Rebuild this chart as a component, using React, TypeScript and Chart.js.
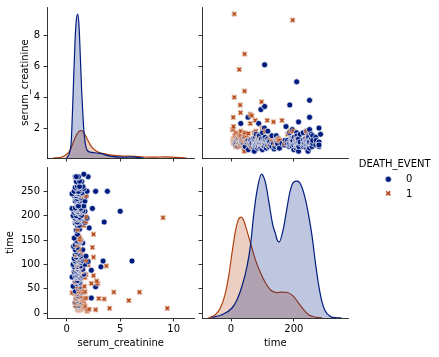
import React, { useEffect, useRef } from 'react';
import { Chart, registerables } from 'chart.js';

Chart.register(...registerables);

const W = 439;
const H = 357;
const FONT = "'DejaVu Sans', sans-serif";
const BLUE = '#001c7f';
const ORANGE = '#b1400d';
const BLUE_FILL = 'rgba(0,28,127,0.25)';
const ORANGE_FILL = 'rgba(177,64,13,0.25)';

// ---------- data: [serum_creatinine, time] ----------
const survivedPoints: [number, number][] = [
  [1.0, 12], [0.9, 15], [1.1, 16], [1.2, 20], [0.8, 22], [1.3, 24], [1.0, 26], [0.9, 30], [2.3, 31], [1.2, 33],
  [1.1, 35], [1.0, 40], [1.4, 42], [0.8, 45], [1.1, 50], [2.7, 54], [0.6, 55], [1.2, 54], [1.0, 60], [0.9, 61],
  [1.2, 63], [0.8, 65], [1.1, 66], [1.0, 67], [1.3, 72], [0.7, 73], [0.5, 74], [0.9, 74], [1.0, 74], [1.2, 74],
  [1.1, 76], [0.8, 77], [1.4, 78], [1.0, 79], [0.9, 79], [1.6, 80], [1.1, 82], [0.9, 82], [1.0, 83], [0.7, 85],
  [1.2, 85], [0.9, 86], [1.3, 87], [2.3, 88], [1.0, 88], [0.8, 88], [1.2, 88], [1.1, 90], [1.5, 90], [1.0, 91],
  [0.9, 94], [1.2, 94], [3.2, 95], [0.8, 95], [0.7, 95], [1.1, 95], [1.0, 96], [1.3, 97], [0.9, 100], [1.7, 100],
  [0.6, 100], [1.0, 100], [1.0, 104], [1.2, 104], [1.3, 104], [0.8, 105], [2.0, 106], [1.1, 106], [3.4, 107], [6.1, 107],
  [0.9, 107], [0.8, 107], [1.4, 108], [1.0, 109], [1.2, 110], [0.7, 112], [1.1, 113], [1.0, 115], [0.9, 115], [1.3, 117],
  [1.8, 117], [1.0, 120], [0.8, 120], [1.1, 120], [1.2, 121], [1.1, 123], [0.9, 126], [1.0, 130], [1.5, 130], [0.8, 130],
  [0.65, 137], [1.0, 135], [0.8, 140], [1.5, 144], [1.2, 145], [1.1, 146], [0.9, 147], [1.0, 148], [1.3, 150], [0.7, 154],
  [1.0, 162], [0.9, 170], [2.1, 175], [1.2, 172], [1.0, 180], [1.2, 180], [0.8, 185], [1.1, 186], [1.7, 186], [3.5, 187],
  [0.9, 187], [1.0, 187], [1.0, 192], [1.3, 193], [1.2, 194], [1.9, 195], [0.8, 195], [1.0, 196], [1.1, 197], [1.2, 197],
  [0.6, 200], [0.9, 200], [1.4, 201], [1.0, 205], [1.2, 205], [0.7, 207], [1.1, 208], [0.9, 209], [5.0, 209], [1.0, 209],
  [1.7, 209], [1.5, 210], [0.8, 211], [1.3, 212], [0.9, 212], [1.0, 213], [1.2, 214], [0.5, 215], [2.4, 215], [1.1, 215],
  [1.3, 215], [0.9, 216], [0.8, 216], [1.0, 220], [1.6, 220], [1.1, 220], [0.8, 230], [1.2, 230], [1.7, 230], [1.0, 231],
  [0.9, 233], [1.1, 235], [1.0, 235], [1.3, 237], [1.8, 240], [1.0, 240], [1.2, 240], [0.7, 241], [0.9, 241], [1.2, 244],
  [0.9, 245], [0.5, 245], [1.0, 245], [1.1, 246], [1.5, 246], [1.4, 247], [0.8, 250], [1.0, 250], [1.2, 250], [0.7, 250],
  [1.1, 250], [1.9, 250], [2.7, 250], [3.8, 250], [0.9, 256], [1.3, 256], [1.6, 256], [1.1, 258], [0.8, 258], [1.0, 260],
  [1.5, 260], [1.2, 260], [0.9, 270], [1.4, 270], [1.2, 271], [1.0, 278], [0.8, 280], [1.1, 280], [0.9, 280], [2.0, 280],
  [1.6, 285],
];

const diedPoints: [number, number][] = [
  [1.9, 4], [1.1, 6], [2.7, 7], [1.3, 7], [1.9, 7], [2.1, 8], [1.0, 8], [4.0, 10], [9.4, 10], [1.2, 10],
  [1.1, 10], [1.5, 11], [1.0, 12], [1.3, 13], [0.9, 14], [1.2, 14], [1.7, 15], [1.2, 15], [0.8, 16], [1.0, 20],
  [1.4, 20], [0.8, 22], [1.1, 23], [1.6, 24], [5.8, 26], [1.3, 26], [1.4, 27], [1.0, 28], [3.5, 29], [1.2, 29],
  [0.9, 30], [3.0, 30], [1.5, 30], [1.8, 31], [1.1, 33], [1.0, 33], [1.3, 35], [1.0, 38], [0.7, 40], [1.2, 41],
  [0.5, 42], [6.8, 43], [4.4, 43], [1.6, 43], [1.45, 43], [0.9, 44], [1.7, 44], [1.1, 45], [1.4, 50], [1.2, 50],
  [1.65, 55], [1.0, 55], [1.2, 59], [2.9, 61], [2.3, 61], [1.3, 62], [0.9, 64], [0.8, 65], [2.8, 66], [1.1, 72],
  [1.7, 73], [2.5, 77], [1.0, 78], [1.8, 79], [1.2, 82], [1.5, 86], [1.4, 88], [0.9, 90], [1.3, 94], [1.0, 95],
  [3.7, 97], [2.0, 99], [1.0, 100], [1.2, 107], [1.8, 109], [1.1, 112], [2.5, 115], [0.9, 120], [1.4, 126], [1.15, 131],
  [2.4, 135], [1.0, 140], [1.3, 150], [1.2, 151], [1.2, 156], [2.5, 162], [1.0, 172], [1.6, 180], [1.8, 188], [1.2, 193],
  [1.1, 196], [9.0, 196], [1.8, 198], [1.3, 207], [0.9, 214], [1.4, 241], [1.8, 241],
];

// ---------- KDE curves (relative density) ----------
const creatinineGridSurvived = [0.0, 0.4, 0.53, 0.65, 0.78, 0.9, 1.03, 1.15, 1.28, 1.4, 1.53, 1.65, 1.78, 1.97, 2.36, 2.83, 3.29, 3.76, 4.38, 5.0, 5.5, 6.1, 6.6, 7.2];
const creatinineDensitySurvived = [0, 13, 43, 80, 117, 138, 144, 133, 100, 67, 40, 22, 12, 7, 5.6, 5, 4.3, 2.6, 1.3, 0.8, 0.8, 1.2, 0.6, 0];
const creatinineGridDied = [-1.3, -0.45, 0.03, 0.34, 0.65, 0.96, 1.28, 1.43, 1.74, 2.06, 2.37, 2.83, 3.46, 4.4, 5.3, 6.24, 7.2, 8.2, 9.2, 10.2, 11.2];
const creatinineDensityDied = [0, 1, 4, 8.3, 16.6, 24, 27.5, 27.3, 22.6, 16, 10.6, 6.6, 4.3, 2.6, 2, 1.6, 1.0, 0.8, 1.2, 0.6, 0];

const timeGridSurvived = [-62, -29, 3, 19, 35, 51, 62, 72, 83, 97, 110, 120, 133, 141, 147, 153, 167, 178, 188, 199, 211, 223, 236, 247, 258, 268, 279, 289, 300, 316, 337, 352];
const timeDensitySurvived = [0.5, 3.3, 10, 18.3, 32, 52, 73, 103, 128, 144, 135, 117, 93, 85, 78, 76, 90, 110, 127, 136, 137, 133, 120, 103, 82, 57, 33, 17, 7, 1.6, 0.2, 0];
const timeGridDied = [-72, -50, -34, -18, -7, 3, 14, 24, 32, 40, 51, 62, 78, 94, 110, 126, 145, 162, 180, 199, 215, 231, 247, 268, 290];
const timeDensityDied = [0, 3.3, 10, 25, 43, 65, 87, 99, 101, 98, 87, 75, 58, 45, 35, 28, 25.5, 26, 25.5, 21.6, 15, 8.3, 3.3, 1, 0];

// ---------- axes ----------
const creatinineRange = [-1.84, 11.94];
const creatinineValueRange = [0.06, 9.85];
const timeRange = [-92.5, 374];
const timeValueRange = [-10, 300];
const creatinineXTicks = [0, 5, 10];
const creatinineYTicks = [2, 4, 6, 8];
const timeXTicks = [0, 200];
const timeYTicks = [0, 50, 100, 150, 200, 250];
const legendTitle = 'DEATH_EVENT';
const legendLabels = ['0', '1'];

type Area = { l: number; t: number; r: number; b: number };
const AREA_TL: Area = { l: 47, t: 7, r: 194.5, b: 158 };
const AREA_TR: Area = { l: 202, t: 7, r: 348.5, b: 158 };
const AREA_BL: Area = { l: 47, t: 167, r: 194.5, b: 318 };
const AREA_BR: Area = { l: 202, t: 167, r: 348.5, b: 318 };

const font = { family: FONT, size: 10, lineHeight: 1.2 };

function zeroPad(s: any) {
  s.paddingLeft = 0; s.paddingRight = 0; s.paddingTop = 0; s.paddingBottom = 0;
}

function xAxis(area: Area, range: number[], ticks: number[], labels: boolean, title?: string) {
  return {
    type: 'linear', position: 'bottom', min: range[0], max: range[1], bounds: 'data',
    afterBuildTicks: (s: any) => { s.ticks = ticks.map((v) => ({ value: v })); },
    afterFit: (s: any) => { s.height = H - area.b; zeroPad(s); },
    grid: { display: true, drawOnChartArea: false, drawTicks: true, tickLength: 3.5, color: '#000', lineWidth: 0.8 },
    border: { display: true, color: '#000', width: 0.8 },
    ticks: { display: labels, padding: 2, color: '#000', font, maxRotation: 0, autoSkip: false },
    title: title
      ? { display: true, text: title, color: '#000', font, padding: { top: 0, bottom: 7.5 } }
      : { display: false },
  };
}

function yAxis(area: Area, range: number[], ticks: number[], labels: boolean, title?: string, titlePad = 0) {
  return {
    type: 'linear', position: 'left', min: range[0], max: range[1], bounds: 'data',
    afterBuildTicks: (s: any) => { s.ticks = ticks.map((v) => ({ value: v })); },
    afterFit: (s: any) => { s.width = area.l; zeroPad(s); },
    grid: { display: true, drawOnChartArea: false, drawTicks: true, tickLength: 3.5, color: '#000', lineWidth: 0.8 },
    border: { display: true, color: '#000', width: 0.8 },
    ticks: { display: labels, padding: 3.5, color: '#000', font, autoSkip: false },
    title: title
      ? { display: true, text: title, color: '#000', font, padding: { top: titlePad, bottom: 0 } }
      : { display: false },
  };
}

function baseOptions(area: Area, scales: any) {
  return {
    responsive: false,
    animation: false,
    events: [],
    devicePixelRatio: 1,
    layout: { padding: { left: 0, top: area.t, right: W - area.r, bottom: 0 } },
    plugins: { legend: { display: false }, tooltip: { enabled: false } },
    scales,
  };
}

function makeXMarker(color: string) {
  const c = document.createElement('canvas');
  const S = 9;
  c.width = S; c.height = S;
  const ctx = c.getContext('2d')!;
  const pts = [[-1, -3], [1, -3], [1, -1], [3, -1], [3, 1], [1, 1], [1, 3], [-1, 3], [-1, 1], [-3, 1], [-3, -1], [-1, -1]];
  ctx.translate(S / 2, S / 2);
  ctx.rotate(Math.PI / 4);
  ctx.beginPath();
  pts.forEach(([x, y], i) => (i ? ctx.lineTo(x, y) : ctx.moveTo(x, y)));
  ctx.closePath();
  ctx.fillStyle = color;
  ctx.fill();
  ctx.strokeStyle = '#fff';
  ctx.lineWidth = 0.6;
  ctx.stroke();
  return c;
}

function kdeDataset(xs: number[], ys: number[], color: string, fill: string) {
  return {
    type: 'line',
    data: xs.map((x, i) => ({ x, y: ys[i] })),
    borderColor: color,
    backgroundColor: fill,
    borderWidth: 1.2,
    fill: 'origin',
    pointRadius: 0,
    cubicInterpolationMode: 'monotone',
    yAxisID: 'y2',
  };
}

// one dataset with all rows ordered by time, so later rows are painted over earlier ones
function scatterDataset(swap: boolean) {
  const xm = makeXMarker(ORANGE);
  const rows = [
    ...survivedPoints.map((p) => ({ p, died: false })),
    ...diedPoints.map((p) => ({ p, died: true })),
  ].sort((a, b) => a.p[1] - b.p[1]);
  return {
    data: rows.map(({ p }) => (swap ? { x: p[1], y: p[0] } : { x: p[0], y: p[1] })),
    pointStyle: rows.map((r) => (r.died ? xm : 'circle')),
    backgroundColor: rows.map((r) => (r.died ? ORANGE : BLUE)),
    borderColor: '#fff',
    borderWidth: rows.map((r) => (r.died ? 0.6 : 0.7)),
    pointRadius: 3,
  };
}

const densityMax = Math.max(...creatinineDensitySurvived, ...creatinineDensityDied);
const timeDensityMax = Math.max(...timeDensitySurvived, ...timeDensityDied);

const configs: (() => any)[] = [
  // top-left: creatinine KDE
  () => ({
    type: 'line',
    data: {
      datasets: [
        kdeDataset(creatinineGridSurvived, creatinineDensitySurvived, BLUE, BLUE_FILL),
        kdeDataset(creatinineGridDied, creatinineDensityDied, ORANGE, ORANGE_FILL),
      ],
    },
    options: baseOptions(AREA_TL, {
      x: xAxis(AREA_TL, creatinineRange, creatinineXTicks, false),
      y: yAxis(AREA_TL, creatinineValueRange, creatinineYTicks, true, 'serum_creatinine', 19),
      y2: { type: 'linear', display: false, min: 0, max: densityMax * 1.05 },
    }),
  }),
  // top-right: time vs creatinine
  () => ({
    type: 'scatter',
    data: { datasets: [scatterDataset(true)] },
    options: baseOptions(AREA_TR, {
      x: xAxis(AREA_TR, timeRange, timeXTicks, false),
      y: yAxis(AREA_TR, creatinineValueRange, creatinineYTicks, false),
    }),
  }),
  // bottom-left: creatinine vs time
  () => ({
    type: 'scatter',
    data: { datasets: [scatterDataset(false)] },
    options: baseOptions(AREA_BL, {
      x: xAxis(AREA_BL, creatinineRange, creatinineXTicks, true, 'serum_creatinine'),
      y: yAxis(AREA_BL, timeValueRange, timeYTicks, true, 'time', 4.3),
    }),
  }),
  // bottom-right: time KDE
  () => ({
    type: 'line',
    data: {
      datasets: [
        kdeDataset(timeGridSurvived, timeDensitySurvived, BLUE, BLUE_FILL),
        kdeDataset(timeGridDied, timeDensityDied, ORANGE, ORANGE_FILL),
      ],
    },
    options: baseOptions(AREA_BR, {
      x: xAxis(AREA_BR, timeRange, timeXTicks, true, 'time'),
      y: yAxis(AREA_BR, timeValueRange, timeYTicks, false),
      y2: { type: 'linear', display: false, min: 0, max: timeDensityMax * 1.05 },
    }),
  }),
];

function ChartCanvas({ make }: { make: () => any }) {
  const ref = useRef<HTMLCanvasElement>(null);
  useEffect(() => {
    const chart = new Chart(ref.current as HTMLCanvasElement, make());
    return () => chart.destroy();
  }, [make]);
  return (
    <canvas
      ref={ref}
      width={W}
      height={H}
      style={{ position: 'absolute', left: 0, top: 0, width: W, height: H }}
    />
  );
}

function Legend() {
  return (
    <svg
      width={W}
      height={H}
      style={{ position: 'absolute', left: 0, top: 0, pointerEvents: 'none' }}
      fontFamily={FONT}
      fontSize={10}
    >
      <text x={394.7} y={166.7} textAnchor="middle" fill="#000">{legendTitle}</text>
      <circle cx={388.3} cy={179.3} r={3} fill={BLUE} stroke="#fff" strokeWidth={0.5} />
      <text x={406} y={181.7} fill="#000">{legendLabels[0]}</text>
      <path
        d="M-1,-3 L1,-3 L1,-1 L3,-1 L3,1 L1,1 L1,3 L-1,3 L-1,1 L-3,1 L-3,-1 L-1,-1 Z"
        transform="translate(388.3,193.3) rotate(45)"
        fill={ORANGE}
        stroke="#fff"
        strokeWidth={0.5}
      />
      <text x={406} y={196.7} fill="#000">{legendLabels[1]}</text>
    </svg>
  );
}

export default function App() {
  return (
    <div style={{ position: 'absolute', left: 0, top: 0, width: W, height: H, background: '#fff', overflow: 'hidden' }}>
      {configs.map((make, i) => (
        <ChartCanvas key={i} make={make} />
      ))}
      <Legend />
    </div>
  );
}
